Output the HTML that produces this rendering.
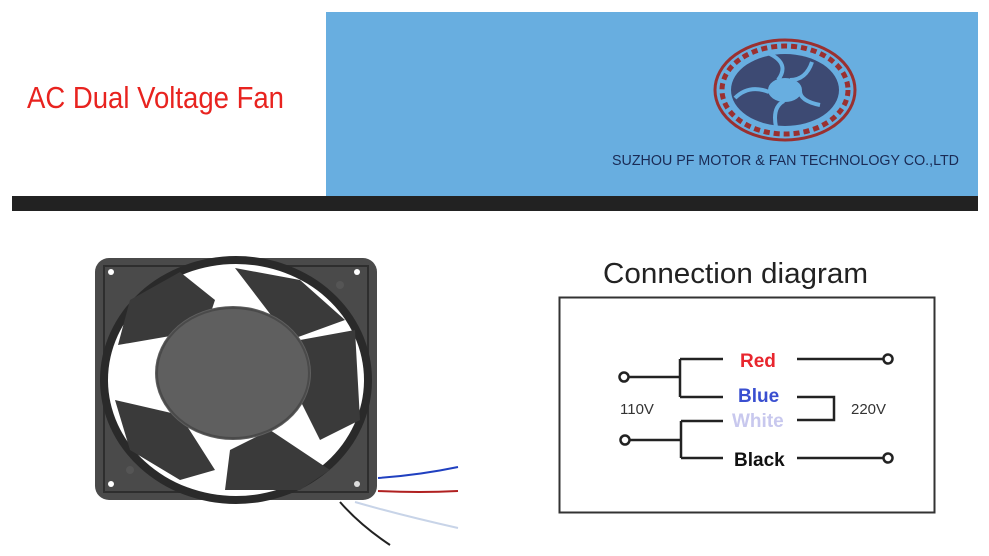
<!DOCTYPE html>
<html><head><style>
body{margin:0;width:989px;height:556px;background:#fff;overflow:hidden;position:relative;font-family:"Liberation Sans",sans-serif}
</style></head><body>
<svg width="989" height="556" viewBox="0 0 989 556" style="position:absolute;left:0;top:0">
<rect x="326" y="12" width="652" height="184" fill="#68aee0"/>
<rect x="12" y="196" width="966" height="15" fill="#222"/>
<text x="27" y="108" font-size="31" fill="#e8231f" font-family="Liberation Sans" textLength="257" lengthAdjust="spacingAndGlyphs">AC Dual Voltage Fan</text>
<text x="612" y="165" font-size="15" fill="#1a2b55" font-family="Liberation Sans" textLength="347" lengthAdjust="spacingAndGlyphs">SUZHOU PF MOTOR &amp; FAN TECHNOLOGY CO.,LTD</text>
<!-- logo -->
<ellipse cx="785" cy="90" rx="70" ry="50" fill="none" stroke="#9a3030" stroke-width="3"/>
<ellipse cx="785" cy="90" rx="63" ry="44" fill="none" stroke="#9a3030" stroke-width="5" stroke-dasharray="6 4"/>
<ellipse cx="785" cy="90" rx="54" ry="36" fill="#3d4a73"/>
<ellipse cx="785" cy="90" rx="17" ry="12" fill="#68aee0"/>
<path d="M770 54 q20 10 8 26 M812 62 q-6 18 -22 18 M820 105 q-20 -4 -20 -14 M776 127 q-4 -20 8 -26 M735 98 q14 -14 34 -6" stroke="#68aee0" stroke-width="4" fill="none"/>
<!-- fan -->
<rect x="95" y="258" width="282" height="242" rx="14" fill="#4a4a4a"/>
<rect x="104" y="266" width="264" height="226" fill="none" stroke="#2e2e2e" stroke-width="2"/>
<ellipse cx="236" cy="380" rx="136" ry="124" fill="#2a2a2a"/>
<ellipse cx="236" cy="380" rx="128" ry="116" fill="#fff"/>
<path d="M118 345 L130 300 L180 272 L215 300 L205 330 Z M235 268 L300 280 L345 320 L290 340 Z M300 340 L355 330 L360 420 L320 440 L300 400 Z M270 430 L330 470 L300 490 L225 490 L230 450 Z M115 400 L180 415 L215 470 L180 480 L130 450 Z" fill="#3a3a3a"/>
<ellipse cx="233" cy="373" rx="78" ry="67" fill="#5f5f5f"/>
<ellipse cx="233" cy="373" rx="76" ry="65" fill="none" stroke="#4a4a4a" stroke-width="2"/>
<circle cx="111" cy="272" r="3" fill="#fff"/><circle cx="357" cy="272" r="3" fill="#fff"/>
<circle cx="111" cy="484" r="3" fill="#fff"/><circle cx="357" cy="484" r="3" fill="#ddd"/>
<circle cx="340" cy="285" r="4" fill="#555"/><circle cx="130" cy="470" r="4" fill="#555"/>
<path d="M378 478 Q420 475 458 467" stroke="#2040c0" stroke-width="2" fill="none"/>
<path d="M378 491 Q420 493 458 491" stroke="#b02020" stroke-width="2" fill="none"/>
<path d="M355 502 Q400 515 458 528" stroke="#c8d4e8" stroke-width="2" fill="none"/>
<path d="M340 502 Q360 525 390 545" stroke="#222" stroke-width="2" fill="none"/>
<!-- diagram -->
<text x="603" y="283" font-size="29" fill="#222" font-family="Liberation Sans" textLength="265" lengthAdjust="spacingAndGlyphs">Connection diagram</text>
<rect x="559.5" y="297.5" width="375" height="215" fill="none" stroke="#333" stroke-width="2"/>
<g stroke="#222" stroke-width="2.5" fill="none">
<path d="M628 377 H680 M680 359 V397 M680 359 H723 M680 397 H723"/>
<path d="M629 440 H681 M681 421 V458 M681 421 H723 M681 458 H723"/>
<path d="M797 359 H885 M797 458 H885"/>
<path d="M797 397 H834 V420 H797"/>
<circle cx="624" cy="377" r="4.5" fill="#fff"/>
<circle cx="625" cy="440" r="4.5" fill="#fff"/>
<circle cx="888" cy="359" r="4.5" fill="#fff"/>
<circle cx="888" cy="458" r="4.5" fill="#fff"/>
</g>
<g font-family="Liberation Sans" font-weight="bold" font-size="19">
<text x="740" y="367" fill="#e8262e">Red</text>
<text x="738" y="402" fill="#3a4fd0">Blue</text>
<text x="732" y="427" fill="#c8c8ee">White</text>
<text x="734" y="466" fill="#111">Black</text>
</g>
<text x="620" y="414" font-size="15" fill="#333" font-family="Liberation Sans">110V</text>
<text x="851" y="414" font-size="15" fill="#333" font-family="Liberation Sans">220V</text>
</svg>
</body></html>
